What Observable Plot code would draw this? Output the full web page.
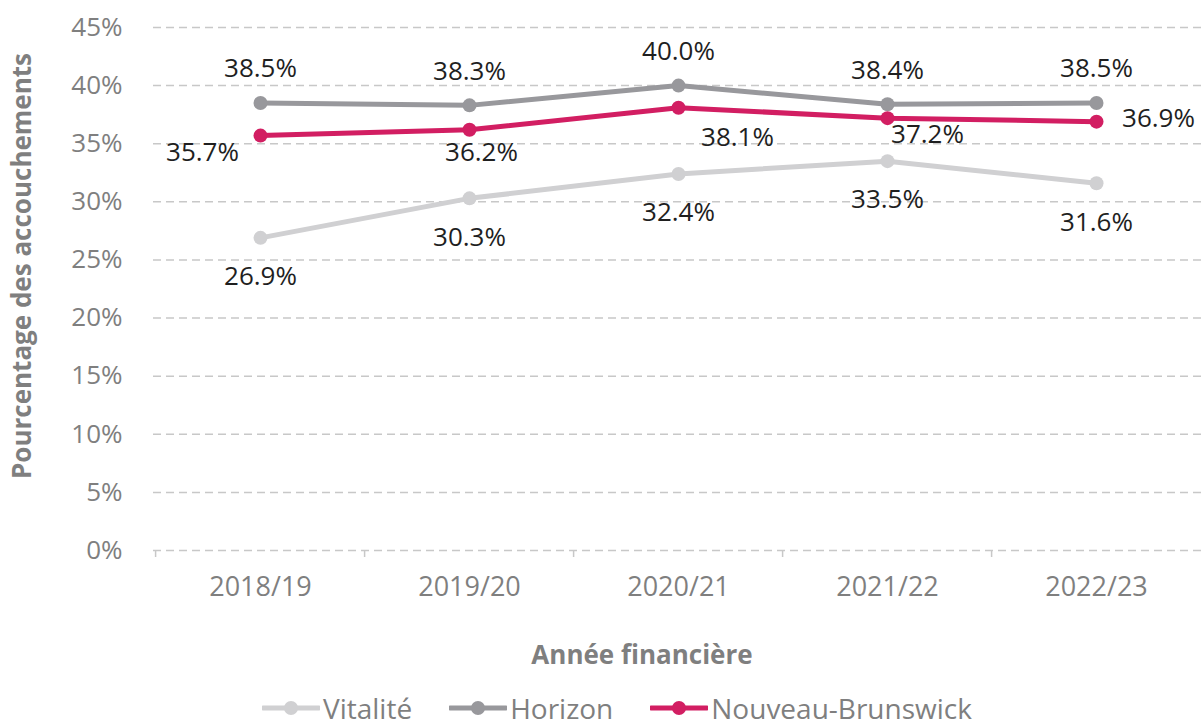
<!DOCTYPE html>
<html>
<head>
<meta charset="utf-8">
<script src="https://cdn.jsdelivr.net/npm/d3@7"></script>
<script src="https://cdn.jsdelivr.net/npm/@observablehq/plot@0.6"></script>
<style>
  html, body { margin: 0; padding: 0; background: #fff; }
  body { width: 1202px; height: 728px; overflow: hidden; font-family: "Open Sans", sans-serif; }
  #legend { display: flex; align-items: center; height: 36px; padding-left: 262px; font-size: 28px; line-height: 36px; color: #7f7f7f; }
  .item { display: flex; align-items: center; margin-right: 37px; }
  .item svg { margin-right: 3px; }
</style>
</head>
<body>
<div id="chart"></div>
<div id="legend"></div>
<script>
const years = ["2018/19", "2019/20", "2020/21", "2021/22", "2022/23"];
const seriesNames = ["Vitalité", "Horizon", "Nouveau-Brunswick"];
const vitalite = [26.9, 30.3, 32.4, 33.5, 31.6];
const horizon = [38.5, 38.3, 40.0, 38.4, 38.5];
const nouveauBrunswick = [35.7, 36.2, 38.1, 37.2, 36.9];
const yTicks = [0, 5, 10, 15, 20, 25, 30, 35, 40, 45];
const colors = ["#d0d0d2", "#98989c", "#d21e62"];

const seriesValues = [vitalite, horizon, nouveauBrunswick];
const rows = seriesNames.flatMap((s, si) => years.map((y, i) => ({series: s, year: y, value: seriesValues[si][i]})));
const rowsOf = s => rows.filter(d => d.series === s);
const fmt = v => v.toFixed(1) + "%";

// Manual label offsets for Nouveau-Brunswick (as placed in original)
const nbOffsets = [[-58, 17], [12, 23], [59, 30], [40, 17], [62, -3]];

const labelStyle = {fontSize: 26, fill: "#1f1f1f", fontFamily: "Open Sans"};

const marks = [
  Plot.ruleY(yTicks, {stroke: "#c8c8c8", strokeWidth: 1.5, strokeDasharray: "8,5"}),
  Plot.ruleX(years, {x: d => d, y1: 0, y2: 0, dx: -104.9, insetBottom: -7, stroke: "#c8c8c8", strokeWidth: 1.5}),
  Plot.axisY({ticks: yTicks, tickSize: 0, tickPadding: 31, tickFormat: d => d + "%", fontSize: 26, label: null}),
  Plot.axisX({tickSize: 0, tickPadding: 26, fontSize: 27, label: null}),
  Plot.text(["Pourcentage des accouchements"], {frameAnchor: "left", textAnchor: "middle", lineAnchor: "middle", rotate: -90, dx: -131, dy: -23, fontSize: 26, fontWeight: "bold", fill: "#7f7f7f"}),
  Plot.text(["Année financière"], {frameAnchor: "bottom", textAnchor: "middle", lineAnchor: "middle", dx: -36, dy: 105, fontSize: 26, fontWeight: "bold", fill: "#7f7f7f"}),
];
seriesNames.forEach((s, si) => {
  marks.push(Plot.line(rowsOf(s), {x: "year", y: "value", stroke: colors[si], strokeWidth: 5}));
  marks.push(Plot.dot(rowsOf(s), {x: "year", y: "value", fill: colors[si], r: 7}));
});
marks.push(Plot.text(rowsOf("Horizon"), {x: "year", y: "value", text: d => fmt(d.value), dy: -34, ...labelStyle}));
marks.push(Plot.text(rowsOf("Vitalité"), {x: "year", y: "value", text: d => fmt(d.value), dy: 39, ...labelStyle}));
rowsOf("Nouveau-Brunswick").forEach((d, i) => {
  marks.push(Plot.text([d], {x: "year", y: "value", text: d => fmt(d.value), dx: nbOffsets[i][0], dy: nbOffsets[i][1], ...labelStyle}));
});

const chart = Plot.plot({
  width: 1202,
  height: 690,
  marginLeft: 153,
  marginRight: 0,
  marginTop: 27,
  marginBottom: 140,
  style: {fontFamily: "Open Sans", color: "#7f7f7f", background: "#fff", overflow: "visible"},
  x: {type: "point", domain: years, padding: 0.5},
  y: {domain: [0, 45]},
  marks
});
chart.style.display = "block";
document.getElementById("chart").appendChild(chart);

const legend = document.getElementById("legend");
seriesNames.forEach((s, si) => {
  const item = document.createElement("div");
  item.className = "item";
  item.innerHTML = `<svg width="58" height="20"><line x1="1" y1="10" x2="57" y2="10" stroke="${colors[si]}" stroke-width="5" stroke-linecap="round"/><circle cx="29" cy="10" r="7" fill="${colors[si]}"/></svg><span>${s}</span>`;
  legend.appendChild(item);
});
</script>
</body>
</html>
